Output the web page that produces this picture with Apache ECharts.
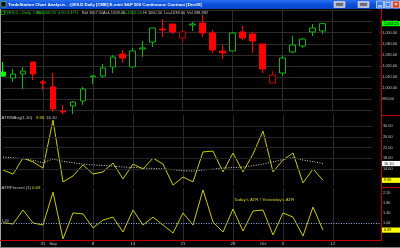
<!DOCTYPE html>
<html><head><meta charset="utf-8">
<script src="https://cdn.jsdelivr.net/npm/echarts@6/dist/echarts.min.js"></script>
<style>html,body{margin:0;padding:0;background:#000;overflow:hidden}#c{width:400px;height:248px}</style>
</head><body><div id="c"></div>
<script>
// ---------- data ----------
const dates = ['Aug 25','Aug 26','Aug 27','Aug 28','Aug 31','Sep 1','Sep 2','Sep 3','Sep 4','Sep 8','Sep 9','Sep 10','Sep 11',
  'Sep 14','Sep 15','Sep 16','Sep 17','Sep 18','Sep 21','Sep 22','Sep 23','Sep 24','Sep 25','Sep 28','Sep 29','Sep 30',
  'Oct 1','Oct 2','Oct 5','Oct 6','Oct 7','Oct 8','Oct 9','Oct 12','Oct 13','Oct 14','Oct 15','Oct 16'];
const opens  = [1010.8,1009.0,1012.6,1023.5,1005.4,1000.9,979.1,983.7,988.2,1010.0,1010.8,1019.0,1030.7,1019.0,1035.3,1041.6,1053.4,1057.9,1045.2,1057.0,1058.8,1049.8,1033.5,1033.5,1050.7,1048.9,1039.8,1004.5,1013.5,1032.6,1038.0,1050.7,1051.6];
const closes = [1014.4,1012.6,1015.3,1012.6,1004.5,980.9,978.2,987.3,999.0,1010.8,1018.1,1028.0,1027.1,1033.5,1036.2,1054.3,1052.5,1050.7,1050.7,1057.9,1049.8,1034.4,1031.7,1049.8,1045.2,1042.5,1017.2,1011.7,1027.1,1038.9,1044.3,1054.3,1058.25];
const lows   = [1009.9,1005.4,999.0,1007.2,998.1,978.2,976.4,976.4,984.6,1003.6,1009.0,1013.5,1022.6,1019.0,1028.0,1037.1,1046.1,1048.9,1041.6,1051.6,1046.1,1031.7,1026.2,1033.5,1043.4,1031.7,1013.5,1004.5,1010.8,1031.7,1036.2,1047.1,1048.9];
const highs  = [1023.5,1017.2,1019.0,1023.5,1007.2,1013.5,984.6,988.2,1000.9,1011.7,1021.7,1029.8,1034.4,1036.2,1042.5,1054.3,1062.4,1057.9,1053.4,1059.7,1066.1,1052.5,1038.9,1050.7,1056.1,1050.7,1039.8,1015.3,1028.9,1047.1,1045.2,1057.9,1058.8];
const atrToday = [13.7,12.2,18.1,16.7,14.4,32.2,9.3,11.5,15.6,12.2,13.0,16.3,10.4,15.9,14.1,18.1,15.9,8.1,11.1,9.3,20.4,20.7,13.0,20.0,13.0,19.6,28.1,13.0,17.4,20.0,8.9,14.1,9.9];
const atrAvg   = [18.5,18.2,17.9,17.3,16.4,17.8,16.9,16.4,15.9,15.6,15.4,15.1,14.8,14.7,14.4,14.3,14.1,13.8,13.4,13.3,13.7,14.0,14.4,14.6,14.8,15.3,15.9,16.7,17.6,18.3,17.4,16.8,16.1];
const atrPct   = [0.99,0.94,1.51,0.98,0.90,2.24,0.33,1.39,1.35,0.78,1.10,1.22,0.61,1.51,0.90,1.22,0.90,0.57,1.39,0.90,2.33,1.02,0.61,1.55,0.65,1.47,1.51,0.49,1.39,1.22,0.45,1.63,0.69];
const tickDates = ['Aug 31','Sep 1','Sep 8','Sep 14','Sep 21','Sep 28','Oct 1','Oct 5','Oct 12'];
const tickText  = ['31','Sep','8','14','21','28','Oct','5','12'];
const gridDates = ['Aug 31','Sep 8','Sep 14','Sep 21','Sep 28','Oct 5','Oct 12'];
const priceLabels = [990,1000,1010,1020,1030,1040,1050,1060];
const atrLabels = [14,18,22,26,30];
const pctLabels = [1.0,1.4,1.8,2.2];
const lastPrice = 1058.25, lastAtr = 9.90, lastAvg = 16.10, lastPct = 0.69;
// candles drawn hollow dark red (style only)
const hollowRed = [18,27];

// ---------- chart ----------
const GREEN = '#12b412', RED = '#ff0000', DKRED = '#c00000', YEL = '#cccc00', AX = '#c4c4c4';
const chart = echarts.init(document.getElementById('c'), null, {renderer:'canvas'});
const fmt2 = v => v.toLocaleString('en-US',{minimumFractionDigits:2, maximumFractionDigits:2});
const near = (v, arr) => arr.some(a => Math.abs(a - v) < 1e-6);

const candleData = opens.map((o,i) => {
  const item = {value:[o, closes[i], lows[i], highs[i]]};
  if (i === 0) item.itemStyle = {color:'#00ff00', borderColor:'#00ff00'};
  if (hollowRed.includes(i)) item.itemStyle = {color:'#000', borderColor:DKRED};
  return item;
});

const xBase = (gi, withLabels) => ({
  type:'category', gridIndex:gi, data:dates, boundaryGap:false,
  axisLine:{show:false},
  axisTick:{show:withLabels, interval:(i,v)=>tickDates.includes(v), length:2, lineStyle:{color:DKRED}},
  axisLabel:{show:withLabels, interval:(i,v)=>tickDates.includes(v), formatter:v=>tickText[tickDates.indexOf(v)] || '',
             color:AX, fontSize:4.3, fontFamily:'Liberation Sans', margin:2},
  splitLine:{show:true, interval:(i,v)=>gridDates.includes(v), lineStyle:{color:'#2c2c2c', width:1}}
});
const yBase = (gi, min, max, interval, labels) => ({
  type:'value', gridIndex:gi, position:'right', offset:8, min, max, interval,
  axisLine:{show:false}, axisTick:{show:false},
  axisLabel:{color:AX, fontSize:3.8, fontFamily:'Liberation Sans', margin:2,
    formatter:v => near(v, labels) ? fmt2(v) : ''},
  splitLine:{show:false}
});
const hGrid = vals => ({silent:true, symbol:['none','none'], label:{show:false}, animation:false,
  lineStyle:{color:'#262626', type:'solid', width:1}, data: vals.map(v=>({yAxis:v}))});

chart.setOption({
  backgroundColor:'#000', animation:false,
  grid:[
    {left:3, right:27, top:10.66, height:99.36},
    {left:3, right:27, top:115.2, height:70.2},
    {left:3, right:27, top:188.2, height:51.45}
  ],
  xAxis:[xBase(0,false), xBase(1,false), xBase(2,true)],
  yAxis:[
    Object.assign(yBase(0, 980, 1070, 10, priceLabels), {splitLine:{show:true, lineStyle:{color:'#2c2c2c'}},
      axisTick:{show:true, length:2, lineStyle:{color:DKRED}}}),
    yBase(1, 8, 34, 2, atrLabels),
    yBase(2, 0.3, 2.4, 0.1, pctLabels)
  ],
  series:[
    {type:'candlestick', xAxisIndex:0, yAxisIndex:0, data:candleData, barWidth:6, clip:false,
     itemStyle:{color:'#000', color0:RED, borderColor:GREEN, borderColor0:RED, borderWidth:1}},
    {type:'line', xAxisIndex:1, yAxisIndex:1, data:atrToday, symbol:'none', lineStyle:{color:YEL, width:1}, markLine:hGrid(atrLabels), z:3},
    {type:'line', xAxisIndex:1, yAxisIndex:1, data:atrAvg, symbol:'none', lineStyle:{color:'#d8d8d8', width:1, type:[1,1.5]}, z:2},
    {type:'line', xAxisIndex:2, yAxisIndex:2, data:atrPct, symbol:'none', lineStyle:{color:YEL, width:1}, z:3}
  ]
});

// ---------- annotations / chrome ----------
const py = (k, v) => chart.convertToPixel({yAxisIndex:k}, v);
const T = (text, x, y, fill, size, weight, align) => ({type:'text', silent:true, z:100,
  style:{text, x, y, fill, fontSize:size||4, fontFamily:'Liberation Sans', fontWeight:weight||'normal',
         align:align||'left', verticalAlign:'middle'}});
const R = (x, y, w, h, fill, stroke) => ({type:'rect', silent:true, z:99, shape:{x, y, width:w, height:h},
  style:{fill, stroke:stroke||null, lineWidth:stroke?0.6:0}});
const L = (x1, y1, x2, y2, stroke, dash) => ({type:'line', silent:true, z:98, shape:{x1,y1,x2,y2},
  style:{stroke, lineWidth:1, lineDash:dash||null}});
const box = (k, v, fill) => { const y = py(k, v); return [R(382, y-2.6, 18, 5.2, fill), T(fmt2(v), 384, y, '#000', 3.8)]; };

const yOne = Math.round(py(2, 1.0)) + 0.5;
const els = [
  // title bar
  {type:'rect', silent:true, z:99, shape:{x:0,y:0,width:400,height:9},
   style:{fill:new echarts.graphic.LinearGradient(0,0,0,1,[{offset:0,color:'#2a6ef0'},{offset:0.5,color:'#0a50dc'},{offset:1,color:'#0846c8'}])}},
  R(1,1.5,5,5.5,'#101010','#7ad07a'),
  T('TradeStation Chart Analysis - @ES.D Daily [CME] E-mini S&P 500 Continuous Contract [Dec09]', 8, 4.6, '#ffffff', 4.3, 'bold'),
  R(334,1.5,11,6,'#b8b8c8','#e8e8f0'), R(336,3,7,3,'#6a6a7a'),
  R(358,1.5,11,6,'#b8b8c8','#e8e8f0'), R(360,3,7,3,'#6a6a7a'),
  R(376.5,1,7,7,'#3a7af0','#ffffff'), R(378,5.5,4,1,'#ffffff'),
  R(384.5,1,7,7,'#3a7af0','#ffffff'), R(386,2.5,4,4,'#3a7af0','#ffffff'),
  R(392.5,1,7,7,'#e0401a','#ffffff'),
  T('×', 396, 4.6, '#ffffff', 6, 'bold', 'center'),
  // frame lines
  L(0.5,9,0.5,248,'#a0a0a0'),
  L(0,247.5,400,247.5,'#808080'),
  L(381.5,9,381.5,240,DKRED),
  L(381,115.5,400,115.5,DKRED),
  L(381,187.5,400,187.5,DKRED),
  L(0,240.5,382,240.5,DKRED),
  // reference line at 1.00
  L(1,yOne,381,yOne,'#8fb0d8',[1,1.5]),
  T('1.00', 1.5, yOne-2.5, '#a8b8d0', 3.8),
  // pane headers
  R(1,11,3.5,3.5,'#000','#20d020'),
  T('@ES.D - Daily  CME', 5, 12.8, '#20d020', 4),
  T('L=1058.25', 37, 12.8, '#20d020', 4),
  T('4.00', 58, 12.8, '#20d020', 4),
  T('0.47%', 67, 12.8, '#20d020', 4),
  T('Bid 1057.50', 82, 12.8, '#c8c8c8', 4),
  T('Ask 1058.00', 103, 12.8, '#c8c8c8', 4),
  T('O=1052.00', 122, 12.8, '#20d020', 4),
  T('Hi 1060.50', 143, 12.8, '#c8c8c8', 4),
  T('Lo=1038.00', 164, 12.8, '#c8c8c8', 4),
  T('Vol 288,882', 187, 12.8, '#c8c8c8', 4),
  T('ATRWAvg(1,10)', 1.5, 117.6, '#c8c8c8', 4.3),
  T('9.90', 36, 117.6, '#dddd00', 4.3),
  T('16.10', 46, 117.6, '#c8c8c8', 4.3),
  T('ATRPercent (1)', 1.5, 188.2, '#c8c8c8', 4.3),
  T('0.69', 32, 188.2, '#dddd00', 4.3),
  T("Today's ATR / Yesterday's ATR", 234, 199.5, '#d8d800', 4.4),
  // last value boxes
  ...box(0, lastPrice, '#00ff00'),
  ...box(1, lastAvg, '#ffffff'),
  ...box(1, lastAtr, '#ffff00'),
  ...box(2, lastPct, '#ffff00')
];
chart.setOption({graphic:{elements:els}});
</script>
</body></html>
